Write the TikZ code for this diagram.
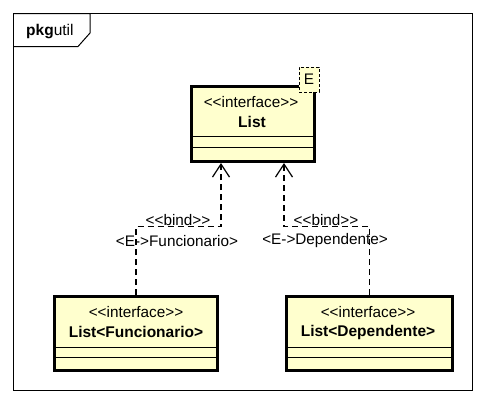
\documentclass[tikz,border=0pt]{standalone}
\usepackage{fontspec}
\setmainfont{Liberation Sans}
\usetikzlibrary{arrows.meta}
\definecolor{umlyellow}{RGB}{255,255,206}
\tikzset{
  umlbox/.style={draw=black, line width=3pt, fill=umlyellow, rectangle, inner sep=0pt},
  sepline/.style={draw=black, line width=1pt},
  txt/.style={inner sep=0pt, font=\fontsize{15.3}{18}\selectfont},
  btxt/.style={inner sep=0pt, font=\fontsize{15.5}{18}\selectfont\bfseries},
  bindline/.style={draw=black, line width=1.2pt, dash pattern=on 6pt off 4pt,
    -{Straight Barb[length=13pt,width=17pt,line width=1.2pt]}},
  frameline/.style={draw=black, line width=1pt},
  tparam/.style={draw=black, fill=umlyellow, line width=1pt, dash pattern=on 3pt off 2pt,
    minimum width=20pt, minimum height=25pt, inner sep=0pt, font=\fontsize{15.3}{18}\selectfont}
}
\begin{document}
\begin{tikzpicture}[x=1pt,y=-1pt]
\useasboundingbox (0,0) rectangle (486,405);
\fill[white] (0,0) rectangle (486,405);
% package frame
\draw[frameline] (13.5,13.5) rectangle (472.5,390.5);
\draw[frameline] (13.5,13.5) -- (90,13.5) -- (90,33) -- (78,46.5) -- (13.5,46.5);
\node[anchor=west, inner sep=0pt, font=\fontsize{15.5}{18}\selectfont] (pkg) at (26,32) {\textbf{pkg}util};
% List box
\node[umlbox, minimum width=123pt, minimum height=75pt] (list) at (253,124) {};
\draw[sepline] (list.west |- 0,136) -- (list.east |- 0,136);
\draw[sepline] (list.west |- 0,147) -- (list.east |- 0,147);
\node[txt] (listst) at (251,102) {<{}<interface>{}>};
\node[btxt] (listname) at (252,122) {List};
\node[tparam] (tp) at (309,79.5) {E};
% bottom left
\node[umlbox, minimum width=163pt, minimum height=74pt] (lf) at (136,333.5) {};
\draw[sepline] (lf.west |- 0,347) -- (lf.east |- 0,347);
\draw[sepline] (lf.west |- 0,357) -- (lf.east |- 0,357);
\node[txt] (lfst) at (136,312) {<{}<interface>{}>};
\node[btxt] (lfname) at (136,332) {List<Funcionario>};
% bottom right
\node[umlbox, minimum width=166pt, minimum height=74pt] (rd) at (369.5,333.5) {};
\draw[sepline] (rd.west |- 0,347) -- (rd.east |- 0,347);
\draw[sepline] (rd.west |- 0,357) -- (rd.east |- 0,357);
\node[txt] (rdst) at (368,312) {<{}<interface>{}>};
\node[btxt] (rdname) at (368,332) {List<Dependente>};
% bind connectors
\draw[bindline] (lf.north) -- ++(0,-68.5) -| ([xshift=-32pt]list.south);
\draw[bindline] (rd.north) -- ++(0,-68.5) -| ([xshift=31pt]list.south);
\node[txt] (b1) at (178,220) {<{}<bind>{}>};
\node[txt] (s1) at (177,241) {<E->Funcionario>};
\node[txt] (b2) at (326,220) {<{}<bind>{}>};
\node[txt] (s2) at (325,241) {<E->Dependente>};
\end{tikzpicture}
\end{document}
